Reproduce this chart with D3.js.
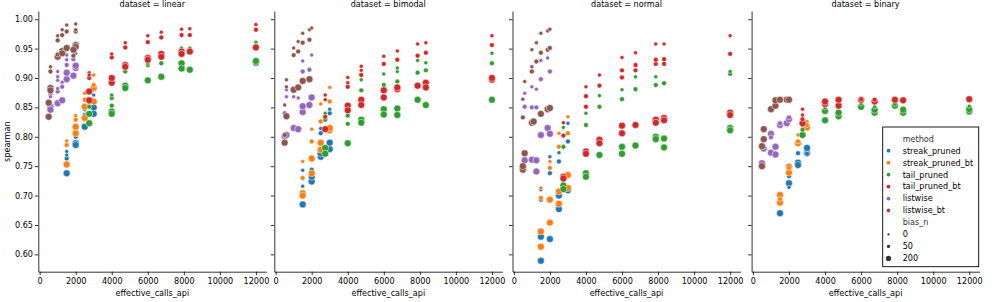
<!DOCTYPE html>
<html><head><meta charset="utf-8">
<script src="https://cdn.jsdelivr.net/npm/d3@7"></script>
<style>body{margin:0;background:#fff}svg{display:block}text{font-family:"DejaVu Sans",sans-serif}</style>
</head><body><svg id="c" width="996" height="302"></svg>
<script>
const datasets = ["linear","bimodal","normal","binary"];
const methodKeys = ["S","SB","T","TB","L","LB"];
const methods = ["streak_pruned","streak_pruned_bt","tail_pruned","tail_pruned_bt","listwise","listwise_bt"];
const colors = ["#1f77b4","#ff7f0e","#2ca02c","#d62728","#9467bd","#8c564b"];
const biasLevels = [0,50,200];
const xTicks = [0,2000,4000,6000,8000,10000,12000];
const yTicks = [0.60,0.65,0.70,0.75,0.80,0.85,0.90,0.95,1.00];

// rows: [method, effective_calls_api, spearman, bias_n]
const linearPts = [
["S",1500,0.738,200],["S",1500,0.763,50],["S",1500,0.775,0],["S",1500,0.769,0],["S",2000,0.789,200],["S",2000,0.786,200],["S",2000,0.800,50],["S",2000,0.808,0],["S",2500,0.817,200],["S",2500,0.837,50],["S",2500,0.846,0],["S",3000,0.850,200],["S",3000,0.839,200],["S",3000,0.860,50],["S",3000,0.871,0],
["SB",1500,0.753,200],["SB",1500,0.786,50],["SB",1500,0.793,0],["SB",2000,0.806,200],["SB",2000,0.817,200],["SB",2000,0.829,50],["SB",2000,0.836,0],["SB",2500,0.851,200],["SB",2500,0.832,200],["SB",2500,0.863,50],["SB",2500,0.874,0],["SB",3000,0.883,200],["SB",3000,0.860,200],["SB",3000,0.888,50],["SB",3000,0.905,0],
["T",2750,0.823,200],["T",2750,0.839,200],["T",2750,0.851,50],["T",2750,0.858,0],["T",4000,0.843,200],["T",4000,0.839,200],["T",4000,0.853,50],["T",4000,0.866,50],["T",4000,0.871,0],["T",4750,0.887,200],["T",4750,0.883,200],["T",4750,0.911,50],["T",4750,0.917,0],["T",6000,0.896,200],["T",6000,0.922,50],["T",6000,0.925,0],["T",6750,0.902,200],["T",6750,0.925,50],["T",7875,0.925,200],["T",7875,0.916,200],["T",7875,0.951,0],["T",7875,0.946,50],["T",8333,0.914,200],["T",8333,0.948,50],["T",8333,0.951,0],["T",12000,0.926,200],["T",12000,0.929,200],["T",12000,0.961,0],["T",12000,0.955,50],
["TB",2750,0.877,200],["TB",2750,0.862,200],["TB",2750,0.900,50],["TB",2750,0.909,0],["TB",2750,0.905,0],["TB",4000,0.892,200],["TB",4000,0.900,200],["TB",4000,0.935,50],["TB",4000,0.941,0],["TB",4750,0.922,200],["TB",4750,0.919,200],["TB",4750,0.952,50],["TB",4750,0.960,0],["TB",6000,0.934,200],["TB",6000,0.931,200],["TB",6000,0.961,50],["TB",6000,0.972,0],["TB",6750,0.941,200],["TB",6750,0.936,200],["TB",6750,0.969,50],["TB",6750,0.978,0],["TB",7875,0.945,200],["TB",7875,0.941,200],["TB",7875,0.973,50],["TB",7875,0.983,0],["TB",8333,0.945,200],["TB",8333,0.973,50],["TB",8333,0.984,0],["TB",12000,0.952,200],["TB",12000,0.982,50],["TB",12000,0.991,0],
["L",600,0.851,200],["L",600,0.846,200],["L",600,0.873,50],["L",600,0.868,0],["L",1000,0.877,50],["L",1000,0.857,200],["L",1000,0.882,0],["L",1000,0.896,0],["L",1000,0.902,0],["L",1000,0.911,0],["L",1250,0.862,200],["L",1250,0.885,50],["L",1250,0.893,0],["L",1500,0.898,200],["L",1500,0.909,200],["L",1500,0.922,50],["L",1500,0.931,0],["L",1500,0.939,0],["L",1875,0.904,200],["L",2000,0.917,200],["L",2000,0.921,200],["L",1875,0.932,50],["L",2000,0.942,0],["L",1875,0.937,0],
["LB",500,0.834,200],["LB",500,0.858,200],["LB",600,0.883,200],["LB",600,0.879,200],["LB",600,0.911,50],["LB",600,0.919,0],["LB",1000,0.936,200],["LB",1000,0.940,50],["LB",1000,0.964,50],["LB",1000,0.972,0],["LB",1250,0.946,200],["LB",1250,0.942,200],["LB",1250,0.973,50],["LB",1250,0.982,0],["LB",1500,0.951,200],["LB",1500,0.979,50],["LB",1500,0.990,0],["LB",2000,0.956,200],["LB",2000,0.953,200],["LB",1875,0.948,200],["LB",2000,0.979,50],["LB",2000,0.982,0],["LB",2000,0.992,0],["LB",1875,0.938,50]
];
const bimodalPts = [
["S",1500,0.685,200],["S",1500,0.698,50],["S",1500,0.716,0],["S",1500,0.729,0],["S",1500,0.743,0],["S",2000,0.724,200],["S",2000,0.732,200],["S",2000,0.744,50],["S",2000,0.766,0],["S",2500,0.766,200],["S",2500,0.772,200],["S",2500,0.806,50],["S",2500,0.814,0],["S",3000,0.779,200],["S",3000,0.790,200],["S",3000,0.840,50],["S",3000,0.847,0],
["SB",1500,0.704,200],["SB",1500,0.700,200],["SB",1500,0.730,50],["SB",1500,0.758,0],["SB",2000,0.763,200],["SB",2000,0.738,200],["SB",2000,0.792,50],["SB",2000,0.813,0],["SB",2500,0.790,200],["SB",2500,0.778,200],["SB",2500,0.826,50],["SB",2500,0.856,0],["SB",3000,0.811,200],["SB",3000,0.815,200],["SB",3000,0.860,50],["SB",3000,0.884,0],
["T",2750,0.781,200],["T",2750,0.771,200],["T",2750,0.829,50],["T",2750,0.840,0],["T",4000,0.789,200],["T",4000,0.822,50],["T",4000,0.836,50],["T",4000,0.846,0],["T",4750,0.829,200],["T",4750,0.824,200],["T",4750,0.879,50],["T",4750,0.897,0],["T",6000,0.847,200],["T",6000,0.838,200],["T",6000,0.888,50],["T",6000,0.907,0],["T",6750,0.848,200],["T",6750,0.837,200],["T",6750,0.894,50],["T",6750,0.911,0],["T",6750,0.917,0],["T",7875,0.863,200],["T",7875,0.909,50],["T",7875,0.930,0],["T",8333,0.854,200],["T",8333,0.913,50],["T",8333,0.926,0],["T",12000,0.863,200],["T",12000,0.925,50],["T",12000,0.942,0],
["TB",2750,0.813,200],["TB",2750,0.834,50],["TB",2750,0.863,0],["TB",2750,0.871,0],["TB",4000,0.853,200],["TB",4000,0.845,200],["TB",4000,0.885,50],["TB",4000,0.892,0],["TB",4000,0.901,0],["TB",4750,0.863,200],["TB",4750,0.854,200],["TB",4750,0.905,50],["TB",4750,0.913,0],["TB",4750,0.920,0],["TB",6000,0.879,200],["TB",6000,0.867,200],["TB",6000,0.924,50],["TB",6000,0.937,0],["TB",6750,0.881,200],["TB",6750,0.884,200],["TB",6750,0.931,50],["TB",6750,0.946,0],["TB",7875,0.887,200],["TB",7875,0.938,50],["TB",7875,0.958,0],["TB",8333,0.892,200],["TB",8333,0.884,200],["TB",8333,0.943,50],["TB",8333,0.960,0],["TB",12000,0.897,200],["TB",12000,0.900,200],["TB",12000,0.956,50],["TB",12000,0.972,0],
["L",500,0.801,200],["L",600,0.803,200],["L",500,0.840,50],["L",600,0.868,0],["L",600,0.880,0],["L",1000,0.815,200],["L",1000,0.868,0],["L",1250,0.813,200],["L",1250,0.866,0],["L",1500,0.842,200],["L",1500,0.852,200],["L",1500,0.911,50],["L",1500,0.929,0],["L",1875,0.854,200],["L",2000,0.867,200],["L",1875,0.914,50],["L",2000,0.939,0],
["LB",500,0.790,200],["LB",500,0.803,50],["LB",600,0.835,200],["LB",500,0.854,0],["LB",600,0.897,0],["LB",600,0.885,0],["LB",1000,0.880,200],["LB",1000,0.939,50],["LB",1000,0.951,0],["LB",1250,0.884,200],["LB",1250,0.945,50],["LB",1250,0.962,0],["LB",1500,0.895,200],["LB",1500,0.960,50],["LB",1500,0.976,0],["LB",1875,0.898,200],["LB",1875,0.965,50],["LB",1875,0.982,0],["LB",2000,0.985,0]
];
const normalPts = [
["S",1500,0.589,200],["S",1500,0.630,200],["S",1500,0.693,50],["S",1500,0.710,0],["S",2000,0.626,200],["S",2000,0.738,50],["S",2000,0.766,0],["S",2500,0.677,200],["S",2500,0.700,200],["S",2500,0.758,50],["S",2500,0.773,0],["S",3000,0.709,200],["S",3000,0.792,50],["S",3000,0.823,0],
["SB",1500,0.639,200],["SB",1500,0.613,200],["SB",1500,0.696,50],["SB",1500,0.713,0],["SB",2000,0.693,200],["SB",2000,0.654,200],["SB",2000,0.747,50],["SB",2000,0.758,0],["SB",2500,0.707,200],["SB",2500,0.686,200],["SB",2500,0.783,50],["SB",2500,0.806,0],["SB",3000,0.735,200],["SB",3000,0.713,200],["SB",3000,0.806,50],["SB",3000,0.834,0],
["T",2750,0.717,200],["T",2750,0.711,200],["T",2750,0.783,50],["T",2750,0.816,0],["T",4000,0.738,200],["T",4000,0.732,200],["T",4000,0.820,50],["T",4000,0.840,0],["T",4750,0.769,200],["T",4750,0.851,50],["T",4750,0.870,0],["T",6000,0.783,200],["T",6000,0.771,200],["T",6000,0.864,50],["T",6000,0.880,0],["T",6750,0.785,200],["T",6750,0.881,50],["T",6750,0.902,0],["T",7875,0.800,200],["T",7875,0.796,200],["T",7875,0.888,50],["T",7875,0.902,0],["T",8333,0.782,200],["T",8333,0.797,200],["T",8333,0.891,50],["T",12000,0.815,200],["T",12000,0.811,200],["T",12000,0.907,50],["T",12000,0.911,0],
["TB",2750,0.732,200],["TB",2750,0.729,200],["TB",2750,0.802,50],["TB",2750,0.824,0],["TB",4000,0.775,200],["TB",4000,0.771,200],["TB",4000,0.851,50],["TB",4000,0.869,50],["TB",4000,0.885,0],["TB",4750,0.795,200],["TB",4750,0.789,200],["TB",4750,0.887,50],["TB",4750,0.905,0],["TB",6000,0.819,200],["TB",6000,0.806,200],["TB",6000,0.901,50],["TB",6000,0.913,50],["TB",6000,0.935,0],["TB",6750,0.820,200],["TB",6750,0.913,50],["TB",6750,0.922,50],["TB",6750,0.943,0],["TB",7875,0.829,200],["TB",7875,0.824,200],["TB",7875,0.924,50],["TB",7875,0.931,50],["TB",7875,0.958,0],["TB",8333,0.832,200],["TB",8333,0.828,200],["TB",8333,0.924,50],["TB",8333,0.932,50],["TB",8333,0.958,0],["TB",12000,0.841,200],["TB",12000,0.837,200],["TB",12000,0.941,50],["TB",12000,0.972,0],
["L",500,0.747,200],["L",600,0.760,200],["L",600,0.851,50],["L",600,0.874,0],["L",1000,0.761,200],["L",1000,0.850,50],["L",1000,0.885,0],["L",1250,0.741,200],["L",1250,0.760,200],["L",1250,0.850,50],["L",1250,0.881,0],["L",1500,0.803,200],["L",1500,0.898,50],["L",1500,0.930,0],["L",1875,0.815,200],["L",2000,0.805,200],["L",1875,0.934,0],["L",2000,0.911,50],
["LB",500,0.744,200],["LB",500,0.750,200],["LB",600,0.772,200],["LB",500,0.833,50],["LB",500,0.864,0],["LB",600,0.894,0],["LB",1000,0.824,200],["LB",1100,0.826,200],["LB",1000,0.911,50],["LB",1000,0.919,0],["LB",1000,0.948,0],["LB",1250,0.928,50],["LB",1250,0.960,0],["LB",1500,0.839,200],["LB",1500,0.943,50],["LB",1500,0.976,0],["LB",1875,0.847,200],["LB",2000,0.849,200],["LB",1875,0.948,50],["LB",2000,0.951,50],["LB",1875,0.980,0],["LB",2000,0.983,0]
];
const binaryPts = [
["S",1500,0.670,200],["S",1500,0.693,50],["S",1500,0.697,0],["S",2000,0.721,200],["S",2000,0.733,50],["S",2000,0.714,0],["S",2500,0.756,200],["S",2500,0.752,200],["S",2500,0.772,50],["S",2500,0.789,0],["S",3000,0.772,200],["S",3000,0.781,200],["S",3000,0.771,50],
["SB",1500,0.701,200],["SB",1500,0.688,200],["SB",1500,0.694,50],["SB",2000,0.749,200],["SB",2000,0.739,200],["SB",2000,0.747,50],["SB",2500,0.789,200],["SB",2500,0.792,50],["SB",2500,0.803,0],["SB",3000,0.816,200],["SB",3000,0.826,0],["SB",3000,0.820,50],
["T",2750,0.803,200],["T",2750,0.812,50],["T",2750,0.819,0],["T",4000,0.828,200],["T",4000,0.844,200],["T",4000,0.849,0],["T",4750,0.835,200],["T",4750,0.841,200],["T",4750,0.850,0],["T",6000,0.851,200],["T",6000,0.856,0],["T",6750,0.841,200],["T",6750,0.846,200],["T",6750,0.851,0],["T",7875,0.853,200],["T",7875,0.856,50],["T",8333,0.841,200],["T",8333,0.846,200],["T",12000,0.843,200],["T",12000,0.847,200],["T",12000,0.852,0],
["TB",2750,0.823,200],["TB",2750,0.830,50],["TB",2750,0.847,0],["TB",2750,0.837,0],["TB",4000,0.856,200],["TB",4000,0.860,200],["TB",4750,0.853,200],["TB",4750,0.863,200],["TB",6000,0.863,200],["TB",6000,0.864,50],["TB",6750,0.860,200],["TB",6750,0.863,50],["TB",7875,0.863,200],["TB",8333,0.862,200],["TB",12000,0.864,200],
["L",500,0.755,200],["L",600,0.780,200],["L",600,0.783,50],["L",1000,0.773,200],["L",1000,0.805,200],["L",1000,0.799,50],["L",1250,0.770,200],["L",1250,0.783,200],["L",1500,0.820,200],["L",1500,0.823,50],["L",1875,0.823,200],["L",2000,0.830,200],["L",2000,0.833,50],
["LB",500,0.750,200],["LB",500,0.784,200],["LB",600,0.796,200],["LB",600,0.813,200],["LB",1000,0.847,200],["LB",1250,0.853,200],["LB",1250,0.862,200],["LB",1500,0.863,200],["LB",1875,0.863,200],["LB",2000,0.863,200]
];
const panelPts = [linearPts, bimodalPts, normalPts, binaryPts];

const svg = d3.select("#c");
const FS = 8.1;
const panelLeft = [38.3, 274.3, 512.5, 751.6];
const panelW = 228, plotTop = 11, plotBottom = 271.7;
const y = d3.scaleLinear().domain([0.5705, 1.014]).range([plotBottom, plotTop]);
const area = d3.scaleLinear().domain([0, 200]).range([25, 76]);
const rad = b => 0.4 * Math.sqrt(area(b));
const legendArea = d3.scaleLinear().domain([0, 200]).range([8, 44]);
const legendRad = b => 0.4 * Math.sqrt(legendArea(b));
const color = d3.scaleOrdinal().domain(methodKeys).range(colors);

datasets.forEach((ds, i) => {
  const x = d3.scaleLinear().domain([-75, 12575]).range([panelLeft[i], panelLeft[i] + panelW]);
  const g = svg.append("g");
  const pts = panelPts[i].slice().sort((a, b) => methodKeys.indexOf(a[0]) - methodKeys.indexOf(b[0]));
  g.selectAll("circle").data(pts).join("circle")
    .attr("cx", d => x(d[1])).attr("cy", d => y(d[2])).attr("r", d => rad(d[3]))
    .attr("fill", d => color(d[0])).attr("stroke", "#fff").attr("stroke-width", 0.5);
  const xa = g.append("g").attr("transform", `translate(0,${plotBottom})`)
    .call(d3.axisBottom(x).tickValues(xTicks).tickSize(3.5).tickSizeOuter(0).tickPadding(3.2).tickFormat(d3.format("d")));
  const ya = g.append("g").attr("transform", `translate(${panelLeft[i]},0)`)
    .call(d3.axisLeft(y).tickValues(yTicks).tickSize(3.5).tickSizeOuter(0).tickPadding(1.8)
      .tickFormat(i === 0 ? d3.format(".2f") : () => ""));
  [xa, ya].forEach(a => {
    a.selectAll("path.domain").attr("stroke", "#000").attr("stroke-width", 0.8);
    a.selectAll(".tick line").attr("stroke", "#000").attr("stroke-width", 0.8);
    a.selectAll("text").attr("font-size", FS).attr("fill", "#000").attr("font-family", "DejaVu Sans");
  });
  g.append("text").attr("x", panelLeft[i] + panelW / 2).attr("y", 7.2).attr("text-anchor", "middle")
    .attr("font-size", FS).text("dataset = " + ds);
  g.append("text").attr("x", panelLeft[i] + panelW / 2).attr("y", 296.3).attr("text-anchor", "middle")
    .attr("font-size", FS).text("effective_calls_api");
});
svg.append("text").attr("transform", "translate(9.5,141.7) rotate(-90)").attr("text-anchor", "middle")
  .attr("font-size", FS).text("spearman");

const lg = svg.append("g");
lg.append("rect").attr("x", 882.7).attr("y", 127).attr("width", 96).attr("height", 139.7)
  .attr("fill", "#fff").attr("stroke", "#000").attr("stroke-width", 0.9);
const rowY = i => 138.7 + i * 11.97;
const legendRows = [{t: "method", title: true}]
  .concat(methods.map((m, k) => ({t: m, c: colors[k], r: 1.9})))
  .concat([{t: "bias_n", title: true}])
  .concat(biasLevels.map(b => ({t: String(b), c: "#333", r: legendRad(b)})));
legendRows.forEach((row, k) => {
  const yy = rowY(k);
  if (!row.title) {
    lg.append("circle").attr("cx", 888.5).attr("cy", yy).attr("r", row.r).attr("fill", row.c);
  }
  lg.append("text").attr("x", 902.7).attr("y", yy).attr("dy", "0.36em").attr("font-size", FS)
    .attr("fill", row.title ? "#333" : "#000").text(row.t);
});
</script></body></html>
